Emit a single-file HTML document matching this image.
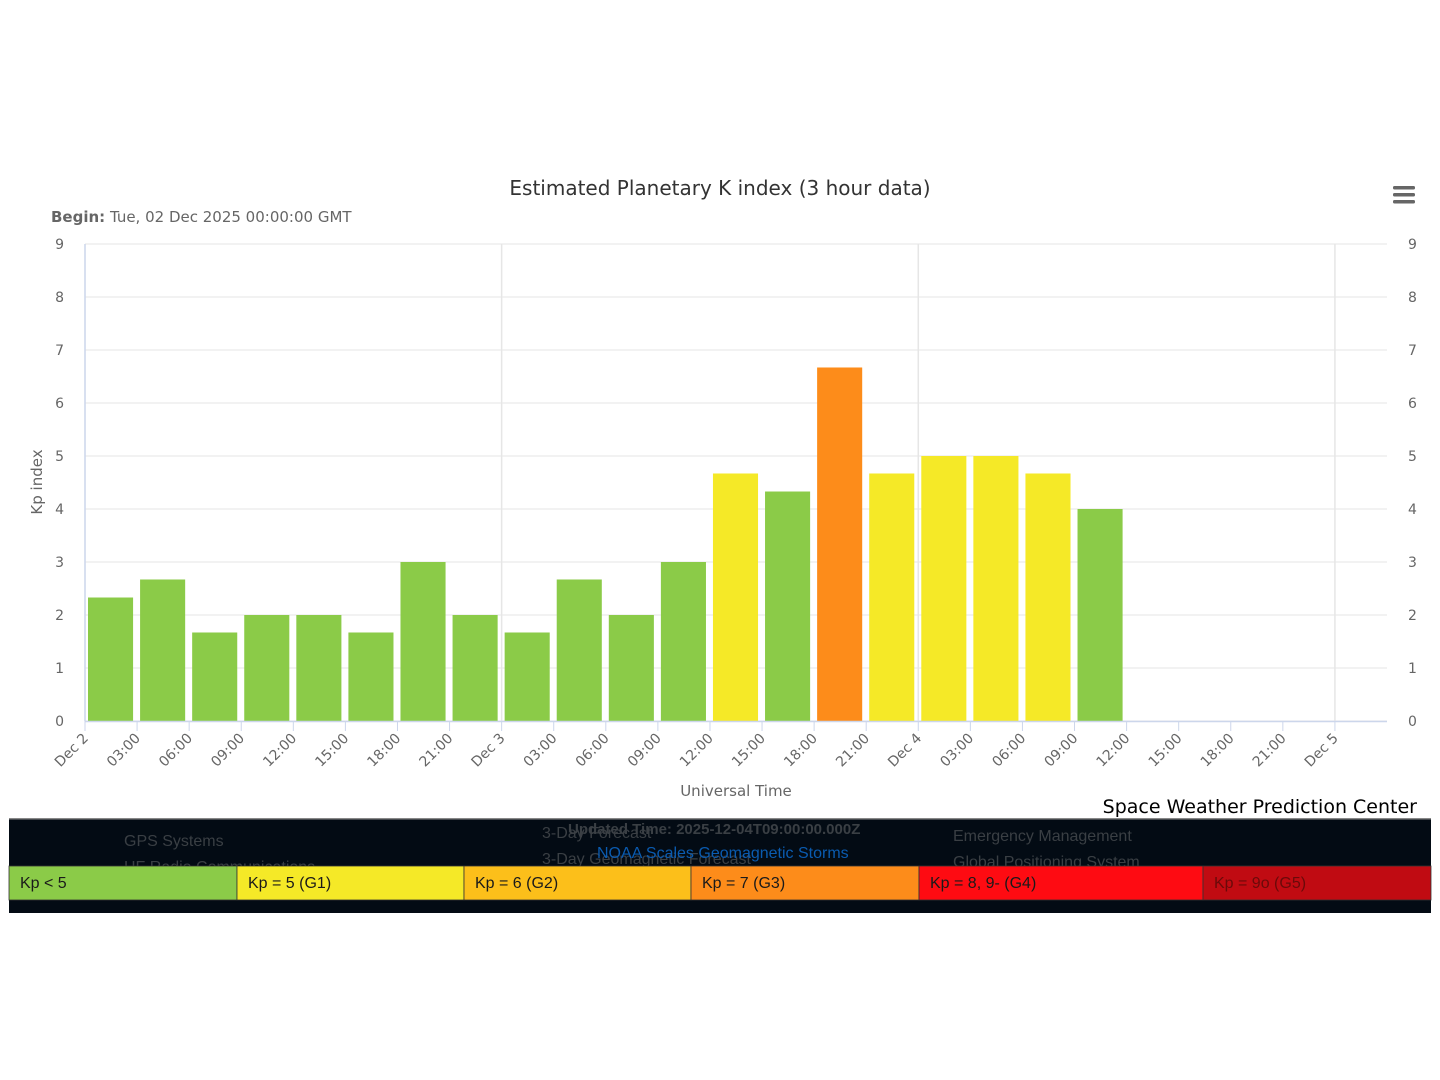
<!DOCTYPE html>
<html><head><meta charset="utf-8">
<style>
html,body{margin:0;padding:0;background:#fff;width:1440px;height:1080px;overflow:hidden;font-family:"DejaVu Sans","Liberation Sans",sans-serif}
svg text{font-family:"DejaVu Sans","Liberation Sans",sans-serif}
svg text.lib{font-family:"Liberation Sans",sans-serif}
</style></head>
<body>
<svg id="chart" width="1440" height="1080" viewBox="0 0 1440 1080" xmlns="http://www.w3.org/2000/svg">
<text x="720" y="195" text-anchor="middle" font-size="20" fill="#333">Estimated Planetary K index (3 hour data)</text>
<text x="51" y="222" font-size="15" fill="#666"><tspan font-weight="bold">Begin:</tspan> Tue, 02 Dec 2025 00:00:00 GMT</text>
<g>
<rect x="1393" y="186" width="22" height="3.5" rx="1.5" fill="#666"/>
<rect x="1393" y="193" width="22" height="3.5" rx="1.5" fill="#666"/>
<rect x="1393" y="200" width="22" height="3.5" rx="1.5" fill="#666"/>
</g>
<g id="grid"></g>
<g id="bars"></g>
<g id="axes"></g>
<text x="42" y="482" transform="rotate(-90 42 482)" text-anchor="middle" font-size="15" fill="#666">Kp index</text>
<text x="736" y="796" text-anchor="middle" font-size="15" fill="#666">Universal Time</text>
<text x="1417" y="813" text-anchor="end" font-size="19" fill="#000">Space Weather Prediction Center</text>
<g>
<rect x="9" y="818" width="1422" height="95" fill="#030b14"/>
<rect x="9" y="818" width="1422" height="1.5" fill="#888"/>
<text class="lib" x="124" y="846" font-size="16" fill="#3a3f44">GPS Systems</text>
<text class="lib" x="124" y="872" font-size="16" fill="#3a3f44">HF Radio Communications</text>
<text class="lib" x="542" y="838" font-size="16" fill="#3a3f44">3-Day Forecast</text>
<text class="lib" x="568" y="834" font-size="15" font-weight="bold" fill="#3a3f44">Updated Time: 2025-12-04T09:00:00.000Z</text>
<text class="lib" x="542" y="864" font-size="16" fill="#3a3f44">3-Day Geomagnetic Forecast</text>
<text class="lib" x="597" y="858" font-size="16" fill="#0a5bb0">NOAA Scales Geomagnetic Storms</text>
<text class="lib" x="953" y="841" font-size="16" fill="#3a3f44">Emergency Management</text>
<text class="lib" x="953" y="867" font-size="16" fill="#3a3f44">Global Positioning System</text>
</g>
<g id="legend"></g>
</svg>
<script>
const categories=[0,1,2,3,4,5,6,7,8,9,10,11,12,13,14,15,16,17,18,19];
const kpValues=[2.33,2.67,1.67,2,2,1.67,3,2,1.67,2.67,2,3,4.67,4.33,6.67,4.67,5,5,4.67,4];
const yTicks=[0,1,2,3,4,5,6,7,8,9];
const xTickLabels=["Dec 2","03:00","06:00","09:00","12:00","15:00","18:00","21:00","Dec 3","03:00","06:00","09:00","12:00","15:00","18:00","21:00","Dec 4","03:00","06:00","09:00","12:00","15:00","18:00","21:00","Dec 5"];
const legendLabels=["Kp < 5","Kp = 5 (G1)","Kp = 6 (G2)","Kp = 7 (G3)","Kp = 8, 9- (G4)","Kp = 9o (G5)"];
const legendColors=["#8bcb48","#f5e927","#fcbf1a","#fd8c1a","#fe0b12","#c00b12"];
const legendEdges=[9,237,464,691,919,1203,1431];

const NS="http://www.w3.org/2000/svg";
const X0=85,X1=1387,Y0=721,YTOP=244,SLOT=52.08;
function ys(v){return Y0-(v/9)*(Y0-YTOP);}
function xs(i){return X0+i*SLOT;}
function mk(tag,attrs,parent){const e=document.createElementNS(NS,tag);for(const k in attrs)e.setAttribute(k,attrs[k]);parent.appendChild(e);return e;}
function color(v){if(v<4.5)return "#8bcb48";if(v<5.5)return "#f5e927";if(v<6.5)return "#fcbf1a";if(v<7.5)return "#fd8c1a";if(v<9)return "#fe0b12";return "#c00b12";}
const grid=document.getElementById('grid'),bars=document.getElementById('bars'),axes=document.getElementById('axes'),legend=document.getElementById('legend');
yTicks.forEach(t=>{
  const l=mk('line',{x1:X0,x2:X1,y1:ys(t),y2:ys(t),stroke:"#e6e6e6","stroke-width":1},grid);
  
  
  const a=mk('text',{x:64,y:ys(t)+5,"text-anchor":"end","font-size":14,fill:"#666"},axes);a.textContent=t;
  
  
  const b=mk('text',{x:1408,y:ys(t)+5,"text-anchor":"start","font-size":14,fill:"#666"},axes);b.textContent=t;
  
  
});
[8,16,24].forEach(i=>{
  const l=mk('line',{x1:xs(i),x2:xs(i),y1:YTOP,y2:Y0,stroke:"#e6e6e6","stroke-width":1.5},grid);
  
  
});
categories.forEach((c,i)=>{
  const v=kpValues[i];
  const r=mk('rect',{x:xs(c)+3,y:ys(v),width:SLOT-7,height:Y0-ys(v),fill:color(v)},bars);
  
  
});
mk('line',{x1:X0,x2:X1,y1:Y0+0.5,y2:Y0+0.5,stroke:"#ccd6eb","stroke-width":1.5},axes);
mk('line',{x1:X0,x2:X0,y1:YTOP,y2:Y0,stroke:"#ccd6eb","stroke-width":1.5},axes);
xTickLabels.forEach((lab,i)=>{
  const x=xs(i);
  mk('line',{x1:x,x2:x,y1:Y0,y2:Y0+10,stroke:"#ccd6eb","stroke-width":1},axes);
  const t=mk('text',{x:x+4,y:Y0+18,"text-anchor":"end","font-size":14,fill:"#666",transform:`rotate(-45 ${x+4} ${Y0+18})`},axes);
  t.textContent=lab;
  
  
});
legendLabels.forEach((lab,i)=>{
  const r=mk('rect',{x:legendEdges[i],y:866,width:legendEdges[i+1]-legendEdges[i],height:34,fill:legendColors[i],stroke:"#333","stroke-width":0.8},legend);
  
  
  const t=mk('text',{x:legendEdges[i]+11,y:888,"font-size":16,fill:i===5?"#6a0a0a":"#1a1a1a","class":"lib"},legend);
  t.textContent=lab;
  
  
});
</script>
</body></html>
